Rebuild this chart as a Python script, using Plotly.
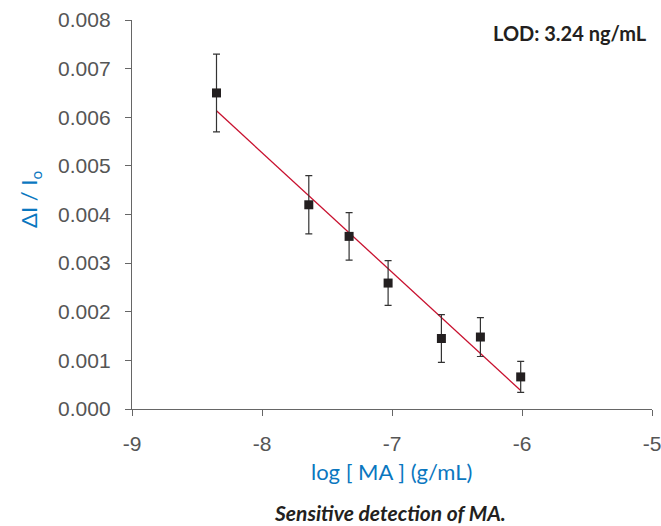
import numpy as np
import plotly.graph_objects as go

log_conc = [-8.35, -7.64, -7.33, -7.03, -6.62, -6.32, -6.01]
delta_i = [0.00650, 0.00420, 0.00355, 0.00259, 0.00145, 0.00148, 0.00066]
err = [0.00080, 0.00060, 0.00049, 0.00046, 0.00049, 0.00040, 0.00032]
x_ticks = [-9, -8, -7, -6, -5]
y_ticks = [0, 0.001, 0.002, 0.003, 0.004, 0.005, 0.006, 0.007, 0.008]

slope, intercept = np.polyfit(log_conc, delta_i, 1)
fit_x = [log_conc[0], log_conc[-1]]
fit_y = [slope * v + intercept for v in fit_x]

fig = go.Figure()
fig.add_trace(go.Scatter(
    x=fit_x, y=fit_y, mode="lines",
    line=dict(color="#C8102E", width=1.3), showlegend=False, hoverinfo="skip"))
fig.add_trace(go.Scatter(
    x=log_conc, y=delta_i, mode="markers",
    marker=dict(symbol="square", size=9, color="#231F20"),
    error_y=dict(type="data", array=err, visible=True, color="#333333",
                 thickness=1.2, width=3.5),
    showlegend=False))

tick_font = dict(family="Liberation Sans, Arial, sans-serif", size=21, color="#555555")
W, H = 661, 526
l, r, t, b = 132, 9, 20, 117
fig.update_layout(
    width=W, height=H,
    margin=dict(l=l, r=r, t=t, b=b),
    plot_bgcolor="white", paper_bgcolor="white",
    xaxis=dict(range=[-9, -5], tickvals=x_ticks, ticktext=[str(v) for v in x_ticks],
               showgrid=False, zeroline=False, showline=True, linecolor="#666666",
               linewidth=1.3, ticks="outside", ticklen=6, tickcolor="#666666",
               tickfont=tick_font, automargin=False, ticklabelstandoff=10,
               ticklabeloverflow="allow"),
    yaxis=dict(range=[0, 0.008], tickvals=y_ticks, ticktext=[f"{v:.3f}" for v in y_ticks],
               showgrid=False, zeroline=False, showline=True, linecolor="#666666",
               linewidth=1.3, ticks="outside", ticklen=6, tickcolor="#666666",
               tickfont=tick_font, automargin=False, ticklabelstandoff=10,
               ticklabeloverflow="allow"),
)

pw, ph = W - l - r, H - t - b
def px(xp):
    return (xp - l) / pw
def py(yp):
    return (H - b - yp) / ph

fig.update_layout(annotations=[
    dict(text="<b>LOD: 3.24 ng/mL</b>", x=px(649), y=py(33), xref="paper", yref="paper",
         showarrow=False, font=dict(family="Lato, sans-serif", size=20, color="#231F20"),
         xanchor="right", yanchor="middle"),
    dict(text="log [ MA ] (g/mL)", xref="paper", yref="paper", x=px(391), y=py(471),
         xanchor="center", yanchor="middle", showarrow=False,
         font=dict(family="Lato, sans-serif", size=22, color="#0A77BF")),
    dict(text="ΔI / I<sub>o</sub>", xref="paper", yref="paper", x=px(30), y=py(200),
         xanchor="center", yanchor="middle", showarrow=False, textangle=-90,
         font=dict(family="Lato, sans-serif", size=22, color="#0A77BF")),
    dict(text="<b><i>Sensitive detection of MA.</i></b>", xref="paper", yref="paper",
         x=px(390), y=py(512), xanchor="center", yanchor="middle", showarrow=False,
         font=dict(family="Lato, sans-serif", size=21, color="#231F20")),
])

fig.write_html("out.html")
